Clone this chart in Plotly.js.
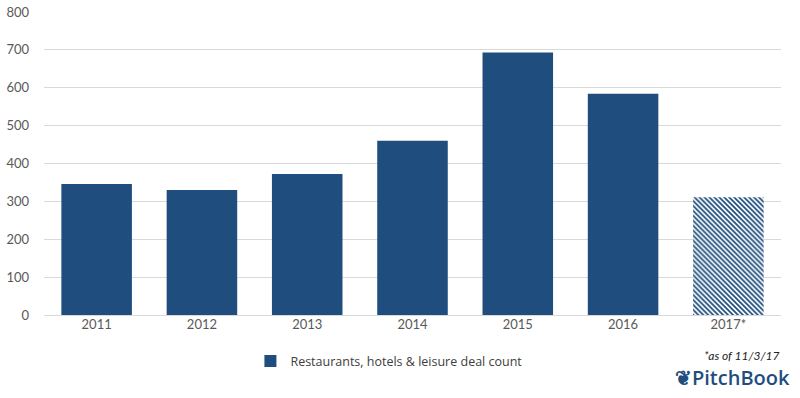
<!DOCTYPE html>
<html><head><meta charset="utf-8">
<script src="https://cdn.plot.ly/plotly-3.0.1.min.js"></script>
<style>html,body{margin:0;padding:0;background:#fff}#chart{width:800px;height:398px}</style>
</head><body><div id="chart"></div>
<script>
const years = ["2011","2012","2013","2014","2015","2016","2017*"];
const dealCounts = [346, 330, 372, 460, 693, 584, 311];
const seriesName = "Restaurants, hotels & leisure deal count";
const yTicks = [0,100,200,300,400,500,600,700,800];

const navy = "#1f4e7e";
const nFull = years.length - 1;

const fullTrace = {
  type: "bar", x: years.slice(0, nFull), y: dealCounts.slice(0, nFull), name: seriesName,
  marker: {color: navy}, showlegend: true, hoverinfo: "none"
};
const partialTrace = {
  type: "bar", x: years.slice(nFull), y: dealCounts.slice(nFull), name: seriesName,
  marker: {color: "#ffffff", line: {width: 0},
    pattern: {shape: "\\", fgcolor: navy, bgcolor: "#ffffff", size: 3.5, solidity: 0.5, fillmode: "replace"}},
  showlegend: false, hoverinfo: "none"
};

const layout = {
  width: 800, height: 398,
  margin: {l: 44, r: 19, t: 12, b: 83},
  paper_bgcolor: "#fff", plot_bgcolor: "#fff",
  font: {family: "Lato, 'Open Sans', sans-serif", size: 13, color: "#595959"},
  barmode: "overlay",
  bargap: 0.33,
  xaxis: {type: "category", categoryorder: "array", categoryarray: years, showgrid: false, showline: false, ticks: "",
    tickfont: {size: 13, color: "#595959"}},
  yaxis: {range: [0, 800], tickvals: yTicks, showgrid: true, gridcolor: "#d9d9d9", gridwidth: 1,
    zeroline: true, zerolinecolor: "#d9d9d9", ticks: "", tickfont: {size: 13, color: "#595959"}, ticklabelstandoff: 14, fixedrange: true},
  showlegend: true,
  legend: {orientation: "h", x: 0.468, xanchor: "center", y: -0.153, yanchor: "middle",
    font: {size: 12.5, color: "#404040", family: "'Open Sans', sans-serif"}, itemwidth: 30},
  annotations: [
    {text: "<i>*as of 11/3/17</i>", xref: "paper", yref: "paper", x: 1.0, y: -0.134, xanchor: "right", yanchor: "middle",
     showarrow: false, font: {size: 12, color: "#222"}},
    {text: "&#10086;PitchBook", xref: "paper", yref: "paper", x: 1.015, y: -0.206, xanchor: "right", yanchor: "middle",
     showarrow: false, font: {size: 20, color: "#1f4e7e", family: "'Open Sans', sans-serif", weight: 600}}
  ]
};
Plotly.newPlot("chart", [fullTrace, partialTrace], layout, {displayModeBar: false, staticPlot: true});
</script></body></html>
